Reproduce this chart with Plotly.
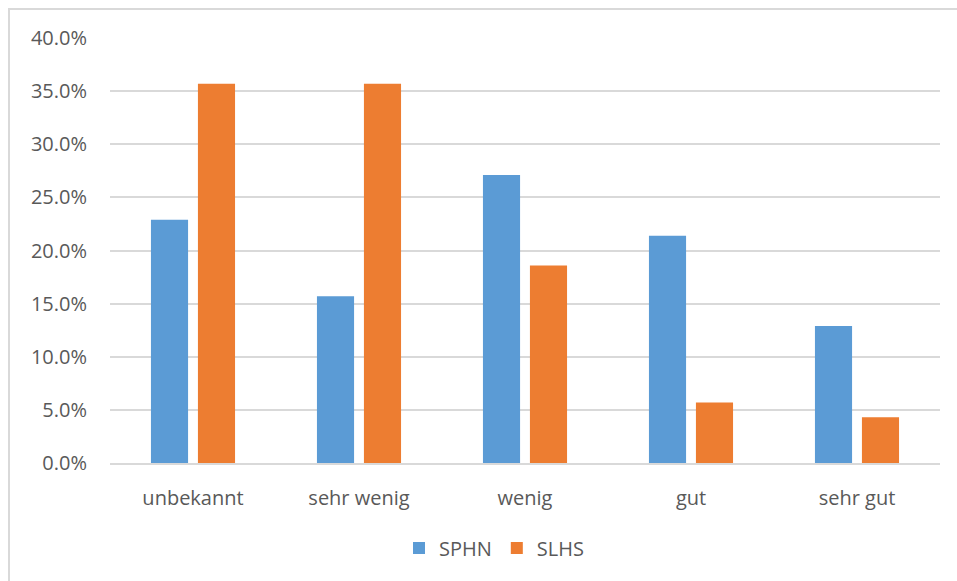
import plotly.graph_objects as go

# Share of respondents per rating (n = 70 per group)
categories = ["unbekannt", "sehr wenig", "wenig", "gut", "sehr gut"]
sphn = [0.229, 0.157, 0.271, 0.214, 0.129]
slhs = [0.357, 0.357, 0.186, 0.057, 0.043]
y_ticks = [0.0, 0.05, 0.10, 0.15, 0.20, 0.25, 0.30, 0.35, 0.40]

FONT = "Open Sans"
TEXT = "#595959"
GRID = "#d9d9d9"

fig = go.Figure()
fig.add_trace(go.Bar(name="SPHN", x=categories, y=sphn, marker_color="#5b9bd5",
                     marker_line_width=0))
fig.add_trace(go.Bar(name="SLHS", x=categories, y=slhs, marker_color="#ed7d31",
                     marker_line_width=0))

W, H = 957, 581
L, R, T, B = 110, 17, 38, 118
pw, ph = W - L - R, H - T - B

def px_x(p):
    return (p - L) / pw

def px_y(p):
    return (H - B - p) / ph

fig.update_layout(
    width=W, height=H,
    margin=dict(l=L, r=R, t=T, b=B),
    paper_bgcolor="white", plot_bgcolor="white",
    barmode="group", bargap=0.434, bargroupgap=0.21,
    font=dict(family=FONT, size=20, color=TEXT),
    showlegend=True,
    legend=dict(orientation="h", x=px_x(494), xanchor="center",
                y=px_y(548), yanchor="middle",
                font=dict(family=FONT, size=20, color=TEXT),
                itemwidth=30, traceorder="normal"),
    xaxis=dict(showgrid=False, showline=True, linecolor=GRID, linewidth=1.5,
               ticks="", ticklabelstandoff=16, zeroline=False,
               tickfont=dict(family=FONT, size=20, color=TEXT)),
    yaxis=dict(range=[0, 0.40], tickvals=y_ticks, tickformat=".1%",
               showgrid=True, gridcolor=GRID, gridwidth=1.5,
               showline=False, zeroline=False, ticks="",
               ticklabelstandoff=22,
               tickfont=dict(family=FONT, size=20, color=TEXT)),
    shapes=[dict(type="rect", xref="paper", yref="paper",
                 x0=px_x(9), x1=px_x(975), y0=px_y(600), y1=px_y(9),
                 line=dict(color="#d9d9d9", width=2), fillcolor="rgba(0,0,0,0)",
                 layer="below")],
)

fig.write_html("out.html")
